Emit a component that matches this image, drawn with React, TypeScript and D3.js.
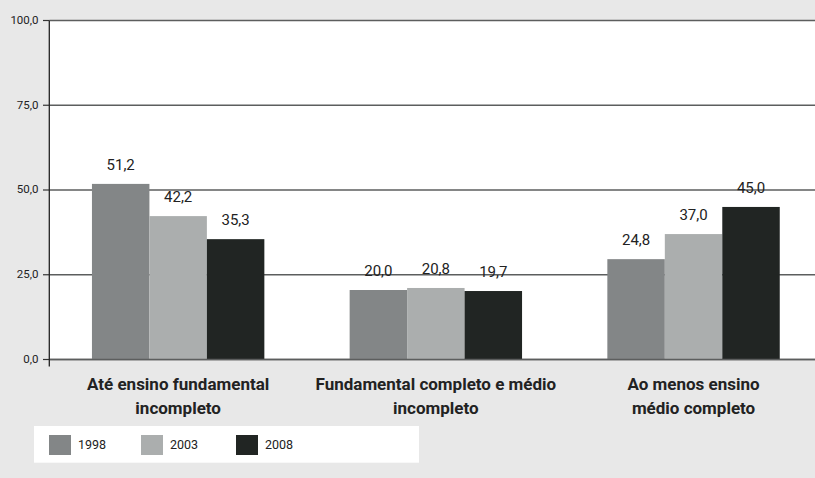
import React from "react";
import * as d3 from "d3";

const categories: string[][] = [
  ["Até ensino fundamental", "incompleto"],
  ["Fundamental completo e médio", "incompleto"],
  ["Ao menos ensino", "médio completo"],
];
const seriesNames = ["1998", "2003", "2008"];
const seriesColors = ["#838687", "#abaeae", "#212523"];
// bar heights as drawn in the picture
const values1998 = [51.8, 20.5, 29.6];
const values2003 = [42.3, 21.1, 37.0];
const values2008 = [35.5, 20.2, 45.0];
// printed value labels
const labels1998 = ["51,2", "20,0", "24,8"];
const labels2003 = ["42,2", "20,8", "37,0"];
const labels2008 = ["35,3", "19,7", "45,0"];
const yTicks = [0, 25, 50, 75, 100];

const W = 815;
const H = 478;
const left = 49.3;
const top = 20.5;
const bottom = 359.5;

export default function App() {
  const x = d3
    .scaleBand<number>()
    .domain(d3.range(categories.length))
    .range([left, left + 3 * 257.7])
    .paddingInner(0.331)
    .paddingOuter(0.1655);
  const xs = d3.scaleBand<number>().domain([0, 1, 2]).range([0, x.bandwidth()]);
  const y = d3.scaleLinear().domain([0, 100]).range([bottom, top]);
  const series = [values1998, values2003, values2008];
  const labels = [labels1998, labels2003, labels2008];
  const fmt = (v: number) => v.toFixed(1).replace(".", ",");
  const font = "Roboto, 'Liberation Sans', sans-serif";

  return (
    <svg
      width={W}
      height={H}
      style={{ position: "absolute", left: 0, top: 0, fontFamily: font }}
    >
      <rect x={0} y={0} width={W} height={H} fill="#e8e8e8" />
      <rect x={left} y={top} width={W - left} height={bottom - top} fill="#ffffff" />
      {yTicks.map((t) => (
        <g key={t}>
          <line x1={left} x2={W} y1={y(t)} y2={y(t)} stroke="#5c5e5e" strokeWidth={1.6} />
          <line x1={43} x2={left} y1={y(t)} y2={y(t)} stroke="#333" strokeWidth={1.2} />
          <text
            x={38.5}
            y={y(t)}
            dy="0.3em"
            textAnchor="end"
            fontSize={11.5}
            fill="#222"
          >
            {fmt(t)}
          </text>
        </g>
      ))}
      {categories.map((_, ci) =>
        series.map((vals, si) => {
          const bx = (x(ci) as number) + (xs(si) as number);
          return (
            <g key={ci + "-" + si}>
              <rect
                x={bx}
                y={y(vals[ci])}
                width={xs.bandwidth()}
                height={bottom - y(vals[ci])}
                fill={seriesColors[si]}
              />
            </g>
          );
        })
      )}
      {yTicks.slice(0, 1).map((t) => (
        <line key="base" x1={left} x2={W} y1={y(t)} y2={y(t)} stroke="#5c5e5e" strokeWidth={1.6} />
      ))}
      <line x1={left} x2={left} y1={top} y2={bottom + 7} stroke="#222" strokeWidth={1.3} />
      {categories.map((_, ci) =>
        series.map((vals, si) => {
          const cx = (x(ci) as number) + (xs(si) as number) + xs.bandwidth() / 2;
          return (
            <text
              key={"l" + ci + "-" + si}
              x={cx}
              y={y(vals[ci]) - 14}
              textAnchor="middle"
              fontSize={15}
              fill="#222"
            >
              {labels[si][ci]}
            </text>
          );
        })
      )}
      {categories.map((lines, ci) => (
        <text
          key={"c" + ci}
          x={(x(ci) as number) + x.bandwidth() / 2}
          y={389.5}
          textAnchor="middle"
          fontSize={17}
          fontWeight="bold"
          fill="#222"
        >
          {lines.map((ln, li) => (
            <tspan key={li} x={(x(ci) as number) + x.bandwidth() / 2} dy={li === 0 ? 0 : 24}>
              {ln}
            </tspan>
          ))}
        </text>
      ))}
      <rect x={34} y={426} width={385} height={36.7} fill="#ffffff" />
      {seriesNames.map((s, i) => {
        const sx = [49, 141, 236][i];
        return (
          <g key={s}>
            <rect x={sx} y={435} width={22} height={20} fill={seriesColors[i]} />
            <text x={sx + 29} y={449} fontSize={12.5} fill="#222">
              {s}
            </text>
          </g>
        );
      })}
    </svg>
  );
}
